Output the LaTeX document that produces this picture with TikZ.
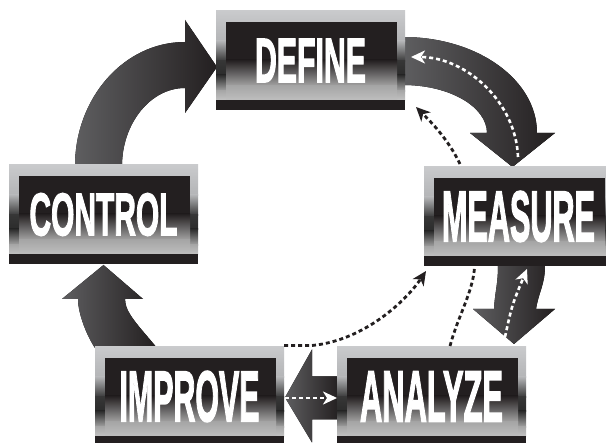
\documentclass[tikz,border=0pt]{standalone}
\usepackage{fontspec}
\usepackage{graphicx}
\newfontfamily\stagefont[BoldFeatures={FakeBold=2.5}]{Liberation Sans}
\usetikzlibrary{calc,arrows.meta,backgrounds}

\definecolor{ink}{HTML}{231F20}
\definecolor{frameTop}{HTML}{C9CACC}
\definecolor{frameUpper}{HTML}{B3B4B6}
\definecolor{frameDark}{HTML}{363636}
\definecolor{frameDeep}{HTML}{2B2B2B}
\definecolor{frameLow}{HTML}{A8A8A8}
\definecolor{frameBase}{HTML}{C3C3C3}
\definecolor{glassLow}{HTML}{A6A6A6}
\definecolor{glassBase}{HTML}{BEBEBE}
\definecolor{shaftLight}{HTML}{5E5E60}
\definecolor{shaftMid}{HTML}{2C292A}

% white condensed caption: width, cap height, text
\newcommand\stagelabel[3]{%
  {\color{white}\resizebox{#1}{#2}{\stagefont\bfseries #3}}}

\tikzset{
  stage/.style={
    minimum width=189pt, minimum height=99pt, inner sep=0pt, outer sep=0pt,
    path picture={
      \coordinate (pp) at (path picture bounding box.north west);
      % bevelled frame
      \fill[top color=frameTop, bottom color=frameUpper] (pp) rectangle ++(189pt,-30.5pt);
      \fill[top color=frameUpper, bottom color=frameDark] ($(pp)+(0pt,-30pt)$) rectangle ++(189pt,-20.5pt);
      \fill[top color=frameDark, bottom color=frameDeep] ($(pp)+(0pt,-50pt)$) rectangle ++(189pt,-14.5pt);
      \fill[top color=frameDeep, bottom color=frameLow] ($(pp)+(0pt,-64pt)$) rectangle ++(189pt,-16.5pt);
      \fill[top color=frameLow, bottom color=frameBase] ($(pp)+(0pt,-80pt)$) rectangle ++(189pt,-9.5pt);
      \fill[ink] ($(pp)+(0pt,-89pt)$) rectangle ++(189pt,-11pt);
      % glossy panel
      \fill[ink] ($(pp)+(10pt,-11pt)$) rectangle ++(171pt,-38.5pt);
      \fill[top color=ink, bottom color=glassLow] ($(pp)+(10pt,-49pt)$) rectangle ++(171pt,-26.5pt);
      \fill[top color=glassLow, bottom color=glassBase] ($(pp)+(10pt,-75pt)$) rectangle ++(171pt,-14pt);
    }},
  shaftfill/.style={left color=shaftLight, middle color=shaftMid, right color=ink},
  tipshape/.style={-{Stealth[length=14pt,width=13pt,inset=4pt]}},
  lightdash/.style={draw=white, line width=2.6pt, dash pattern=on 4pt off 3pt, tipshape},
  darkdash/.style={draw=ink, line width=2.8pt, dash pattern=on 4pt off 3pt, tipshape},
}

\begin{document}
\begin{tikzpicture}[x=1pt,y=-1pt]
\useasboundingbox (0,0) rectangle (606,443);

% the five stages
\node[stage] (define)  at (310.5,60.5)  {\stagelabel{111pt}{43pt}{DEFINE}};
\node[stage] (measure) at (518.5,216.5) {\stagelabel{153pt}{50pt}{MEASURE}};
\node[stage] (control) at (103.5,214.5) {\stagelabel{148pt}{42pt}{CONTROL}};
\node[stage] (improve) at (189.5,396.5) {\stagelabel{140pt}{50pt}{IMPROVE}};
\node[stage] (analyze) at (431.5,396.5) {\stagelabel{143pt}{50pt}{ANALYZE}};

\begin{pgfonlayer}{background}
\fill[white] (0,0) rectangle (606,443);

% Control -> Define
\fill[shaftfill]
  ($(control.north west)+(66,1)$)
  .. controls +(0,-68) and +(-61,0) .. ($(define.west)+(-31,-18.5)$)
  -- ++(0,-22)
  -- ($(define.west)+(1,6.5)$)
  -- ($(define.west)+(-31,52.5)$)
  -- ++(0,-25)
  .. controls +(-35,0) and +(0,-42) .. ($(control.north west)+(113,1)$)
  -- cycle;

% Define -> Measure
\fill[shaftfill]
  ($(define.east)+(-2,-23.5)$)
  .. controls +(75,0) and +(0,-53) .. ($(measure.north)+(18.5,-34)$)
  -- ++(18,0)
  -- ($(measure.north)+(-6,0)$)
  -- ($(measure.north)+(-48.5,-34)$)
  -- ++(17,0)
  .. controls +(0,-26) and +(47,0) .. ($(define.east)+(-2,24.5)$)
  -- cycle;

% Measure -> Analyze
\fill[shaftfill]
  ($(measure.south)+(-20.5,-1)$)
  -- ($(measure.south)+(26.5,-1)$)
  .. controls +(0,20) and +(3,-18) .. ($(analyze.north east)+(10,-38)$)
  -- ++(19,0)
  -- ($(analyze.north east)+(-12,-3)$)
  -- ($(analyze.north east)+(-53,-38)$)
  -- ++(21,0)
  .. controls +(1,-18) and +(0,20) .. ($(measure.south)+(-20.5,-1)$)
  -- cycle;

% Analyze -> Improve
\fill[shaftfill]
  ($(analyze.west)+(2,-20)$)
  -- ($(improve.east)+(28,-20)$)
  -- ($(improve.east)+(28,-47)$)
  -- ($(improve.east)+(1,1)$)
  -- ($(improve.east)+(28,46)$)
  -- ($(improve.east)+(28,23)$)
  -- ($(analyze.west)+(2,23)$)
  -- cycle;

% Improve -> Control
\fill[shaftfill]
  ($(improve.north west)+(62,1)$)
  .. controls +(-18,-22) and +(0,14) .. ($(control.south)+(21.5,35)$)
  -- ++(18,0)
  -- ($(control.south)+(0,1)$)
  -- ($(control.south)+(-41.5,35)$)
  -- ++(16,0)
  .. controls +(0,15) and +(-8,-12) .. ($(improve.north west)+(0,1)$)
  -- cycle;
\end{pgfonlayer}

% feedback paths
\draw[lightdash] ($(measure.north)+(-0.5,-10)$)
  .. controls +(-2,-55) and +(55,0) .. ($(define.east)+(6,-3.5)$);
\draw[darkdash] ($(measure.north west)+(36,-3)$)
  .. controls +(-12,-25) and +(15,15) .. ($(define.south east)+(11,-3)$);
\draw[lightdash] ($(analyze.north east)+(-21,-10)$)
  .. controls +(7,-32) .. ($(measure.south)+(8.5,3)$);
\draw[darkdash,-] ($(analyze.north)+(18.5,-1)$)
  .. controls +(8,-30) and +(-2,25) .. ($(measure.south)+(-44,2)$);
\draw[darkdash] ($(improve.north east)+(0,-1.5)$) -- ++(28,0)
  .. controls +(52,-5) and +(-20,30) .. ($(measure.south west)+(2,5)$);
\draw[lightdash] ($(improve.east)+(1,1.5)$) -- ($(analyze.west)+(0,1.5)$);
\end{tikzpicture}
\end{document}
